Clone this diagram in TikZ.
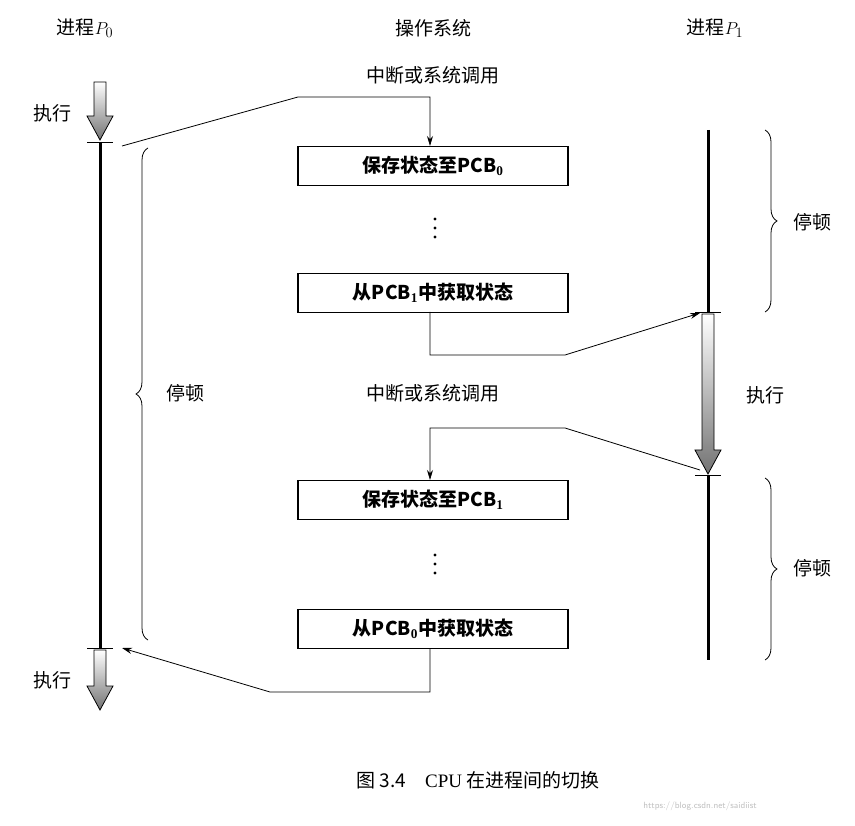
\documentclass[tikz,border=0pt]{standalone}
\usepackage{fontspec}
\setmainfont{Liberation Serif}
\newfontfamily\cjk{Noto Sans CJK SC}
\usetikzlibrary{decorations.pathreplacing,arrows.meta}
\begin{document}
\begin{tikzpicture}[x=1pt,y=-1pt,
  lbl/.style={font=\cjk\fontsize{19}{22}\selectfont},
  box/.style={draw,line width=1.6pt,minimum width=270pt,minimum height=39pt,inner sep=0,font=\cjk\bfseries\fontsize{19}{22}\selectfont},
  tl/.style={line width=3pt},
  tick/.style={line width=0.8pt},
  con/.style={line width=0.8pt},
  arr/.style={con,-{Stealth[length=10pt,width=6pt]}},
  br/.style={decorate,decoration={brace,amplitude=12pt},line width=0.8pt}]
\useasboundingbox (0,0) rectangle (855,826);
\newcommand\execarrow[3]{% x, ytop, ybottom
  \shade[top color=white,bottom color=black!55,draw=black,line width=0.8pt]
   (#1-6,#2) -- (#1+6,#2) -- (#1+6,#3-24) -- (#1+13,#3-24) -- (#1,#3) -- (#1-13,#3-24) -- (#1-6,#3-24) -- cycle;}
% titles
\node[lbl] (t0) at (85,28) {进程$P_0$};
\node[lbl] (tos) at (433,28) {操作系统};
\node[lbl] (t1) at (715,28) {进程$P_1$};
% P0
\execarrow{100}{82}{140}
\draw[tick] (87,142) -- (113,142);
\draw[tl] (100,142) -- (100,648);
\draw[tick] (87,648) -- (113,648);
\execarrow{100}{650}{710}
\node[lbl] (e0a) at (52,113) {执行};
\node[lbl] (e0b) at (52,680) {执行};
\draw[br] (148,640) -- (148,148);
\node[lbl] (s0) at (185,393) {停顿};
% P1
\draw[tl] (708,130) -- (708,312);
\draw[tick] (695,312) -- (721,312);
\execarrow{708}{314}{474}
\draw[tick] (695,475) -- (721,475);
\draw[tl] (708,475) -- (708,660);
\node[lbl] (e1) at (765,395) {执行};
\draw[br] (765,130) -- (765,312);
\node[lbl] (s1) at (812,222) {停顿};
\draw[br] (765,478) -- (765,660);
\node[lbl] (s2) at (812,568) {停顿};
% OS
\node[lbl] (int1) at (433,75) {中断或系统调用};
\node[lbl] (int2) at (433,393) {中断或系统调用};
\node[box] (b1) at (433,166) {保存状态至PCB$_{\mathbf 0}$};
\node[box] (b2) at (433,293) {从PCB$_{\mathbf 1}$中获取状态};
\node[box] (b3) at (433,500) {保存状态至PCB$_{\mathbf 1}$};
\node[box] (b4) at (433,629) {从PCB$_{\mathbf 0}$中获取状态};
\foreach \y in {219,228,237,555,564,573} \fill (435,\y) circle (1.6pt);
% connectors
\coordinate (p0s) at (122,146);
\coordinate (p1a) at (700,313);
\coordinate (p1b) at (700,470);
\coordinate (p0e) at (122,648);
\draw[arr] (p0s) -- (298,97) -- (430,97) -- (430,146);
\draw[arr] (430,312) -- (430,355) -- (565,355) -- (p1a);
\draw[arr] (p1b) -- (565,428) -- (430,428) -- (430,480);
\draw[arr] (430,648) -- (430,692) -- (270,692) -- (p0e);
% caption
\node[font=\cjk\fontsize{19}{22}\selectfont] (cap) at (478,780) {图 3.4\quad{\rmfamily CPU} 在进程间的切换};
\node[font=\sffamily\small,text=black!25] (wm) at (700,806) {https://blog.csdn.net/saidiist};
\end{tikzpicture}
\end{document}
